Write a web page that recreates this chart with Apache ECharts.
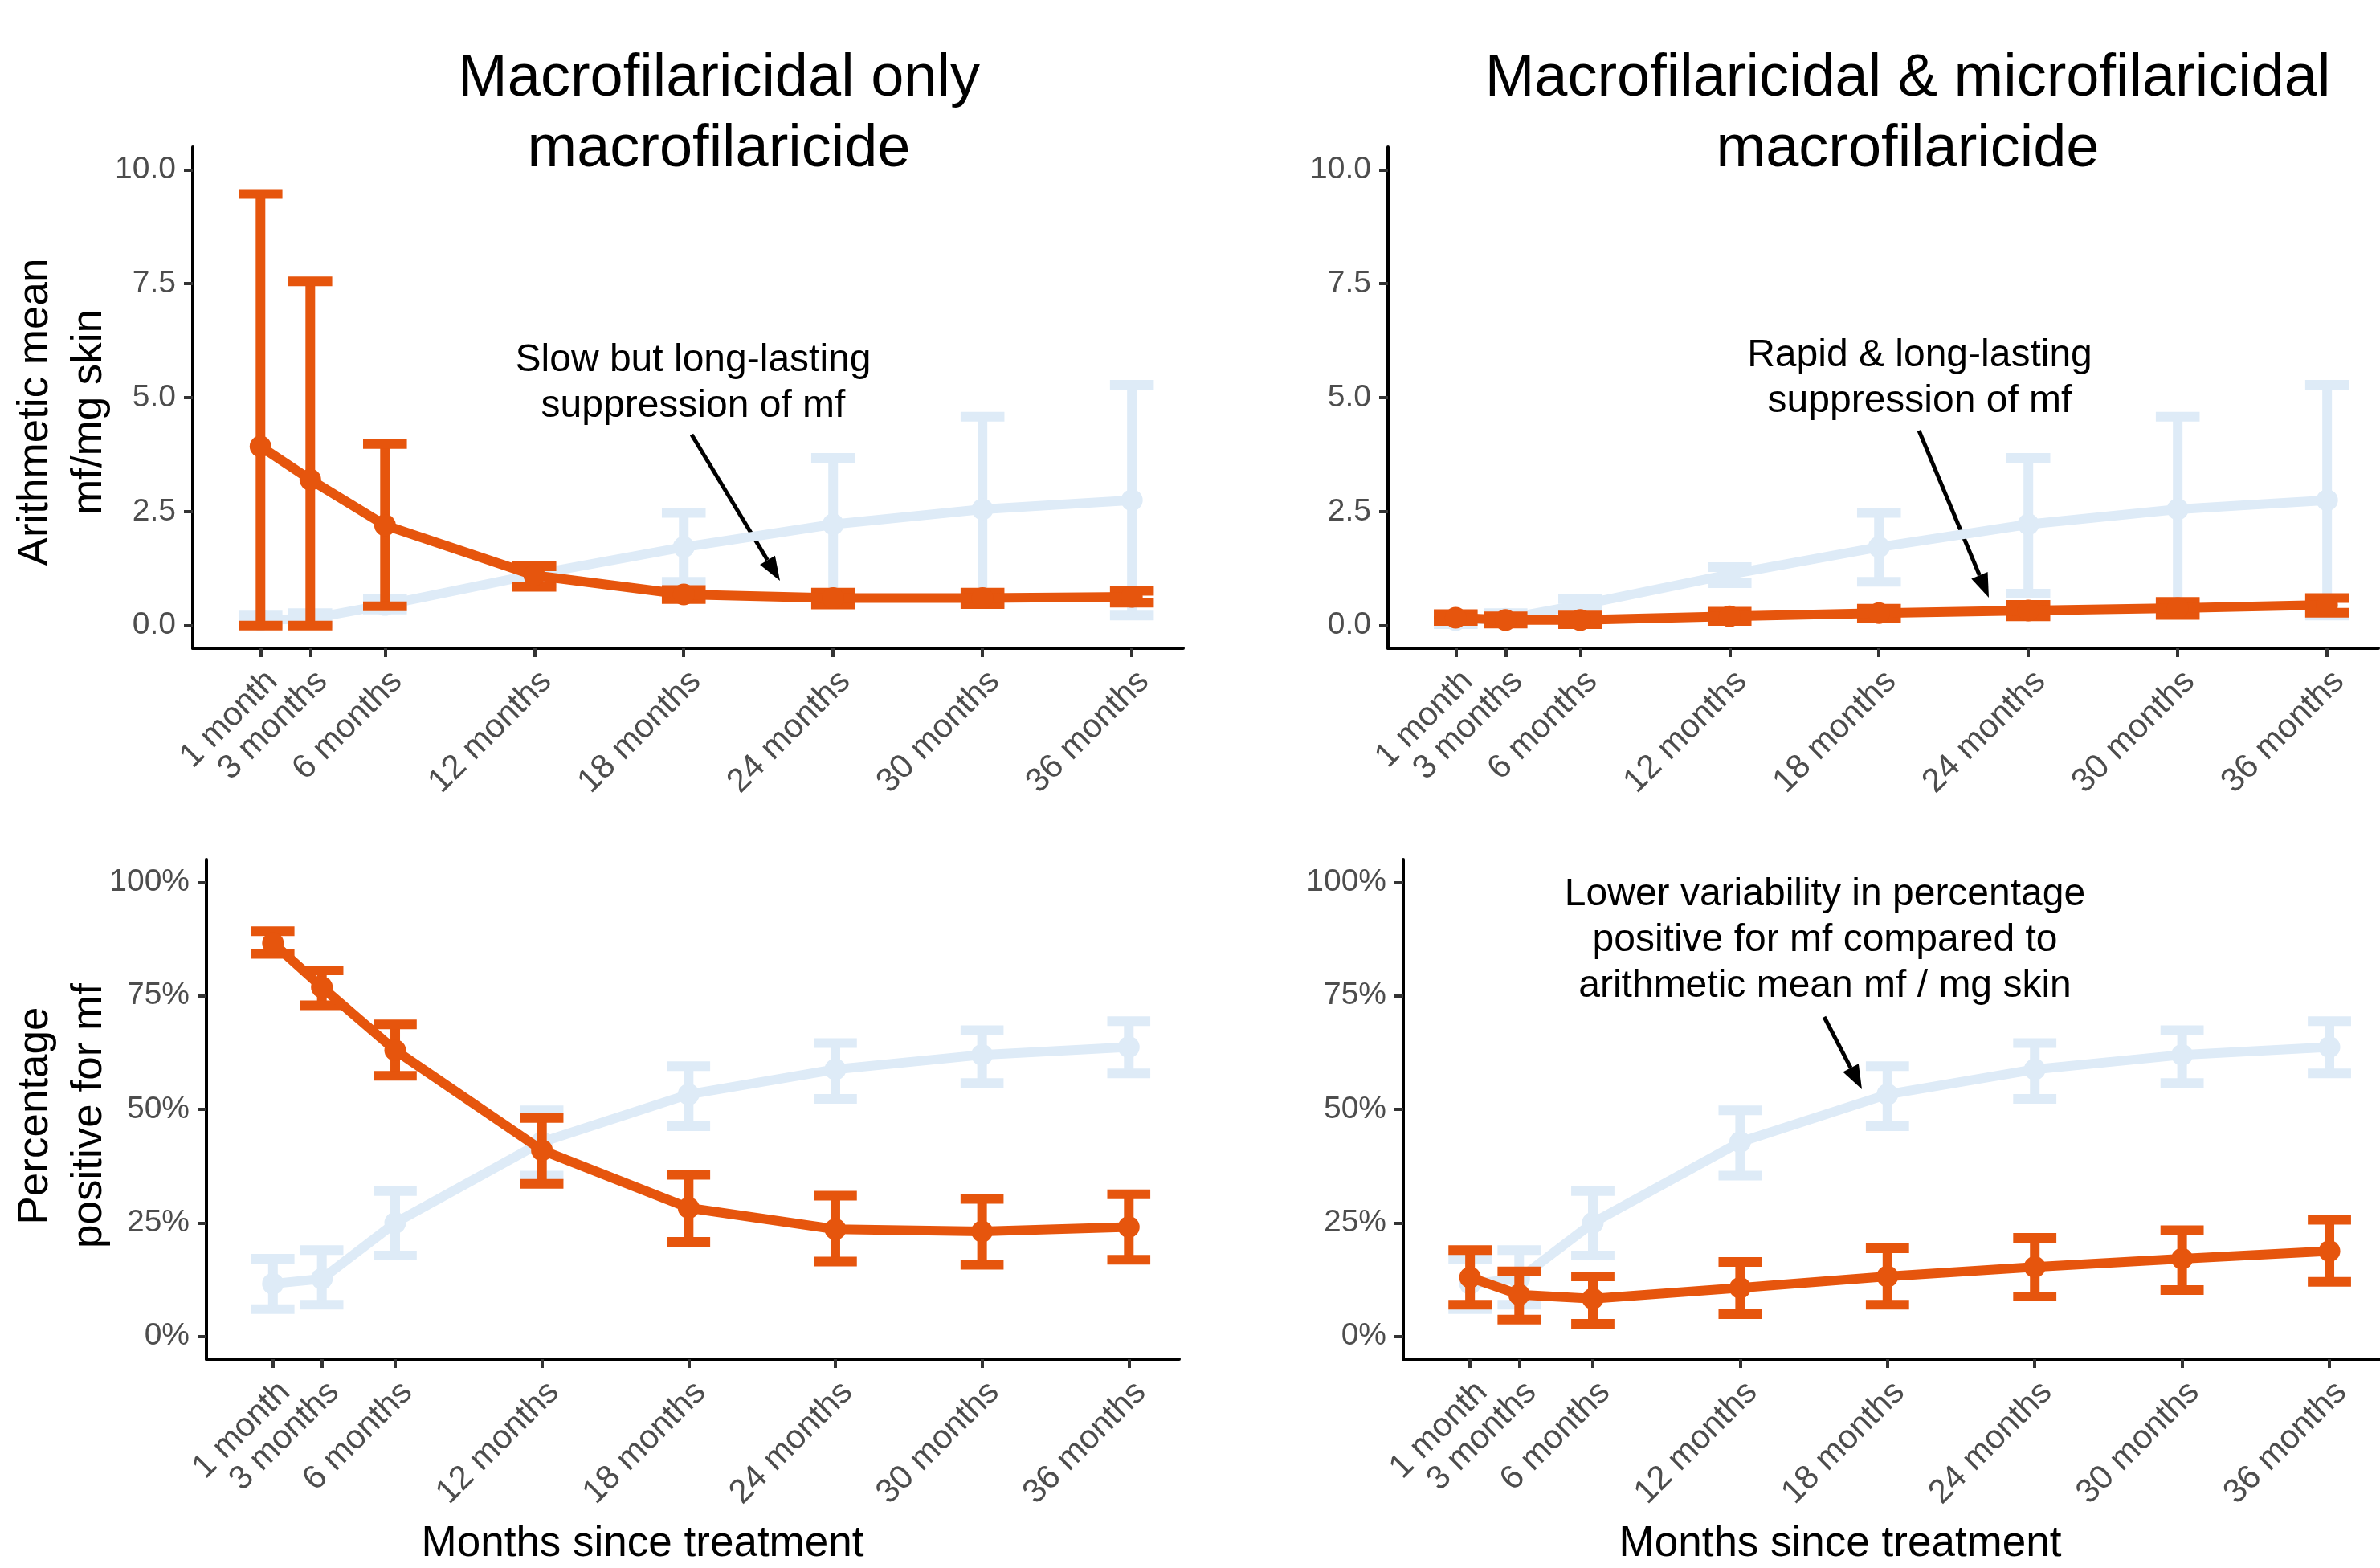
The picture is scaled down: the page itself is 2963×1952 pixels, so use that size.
<!DOCTYPE html>
<html>
<head>
<meta charset="utf-8">
<title>mf suppression</title>
<style>
  * { margin: 0; padding: 0; }
  html, body { width: 2963px; height: 1952px; background: #fff; }
  #chart { width: 2963px; height: 1952px; }
</style>
</head>
<body>
<div id="chart"></div>
<script src="https://cdn.jsdelivr.net/npm/echarts@6/dist/echarts.min.js"></script>
<script>
// time points (months since treatment) and tick labels
var months = [1, 3, 6, 12, 18, 24, 30, 36];
var monthLabels = ['1 month', '3 months', '6 months', '12 months', '18 months', '24 months', '30 months', '36 months'];
var mfTicks = [0, 2.5, 5, 7.5, 10];
var pctTicks = [0, 25, 50, 75, 100];

// arithmetic mean mf/mg skin - reference (light blue, same in both panels)
var refMean = [0.12, 0.15, 0.45, 1.12, 1.72, 2.22, 2.55, 2.75];
var refLow = [0.03, 0.05, 0.35, 0.93, 0.96, 0.70, 0.50, 0.22];
var refHigh = [0.22, 0.27, 0.58, 1.28, 2.47, 3.68, 4.58, 5.28];

// macrofilaricidal only
var macroMean = [3.93, 3.20, 2.20, 1.10, 0.68, 0.60, 0.60, 0.63];
var macroLow = [0, 0, 0.42, 0.85, 0.58, 0.46, 0.47, 0.50];
var macroHigh = [9.47, 7.55, 3.98, 1.30, 0.78, 0.72, 0.72, 0.76];

// macrofilaricidal & microfilaricidal
var microMean = [0.17, 0.12, 0.12, 0.20, 0.27, 0.33, 0.38, 0.45];
var microLow = [0.10, 0.04, 0.03, 0.10, 0.17, 0.20, 0.23, 0.28];
var microHigh = [0.25, 0.20, 0.22, 0.30, 0.37, 0.45, 0.52, 0.60];

// percentage positive for mf
var refPct = [11.6, 12.7, 25.0, 42.8, 53.3, 58.8, 62.0, 63.7];
var refPctLow = [6.0, 7.0, 17.8, 35.4, 46.3, 52.3, 55.8, 57.9];
var refPctHigh = [17.1, 19.0, 32.0, 49.8, 59.5, 64.6, 67.4, 69.4];

var macroPct = [86.6, 76.9, 63.0, 41.0, 28.3, 23.6, 23.1, 24.1];
var macroPctLow = [84.2, 72.9, 57.4, 33.6, 20.8, 16.5, 15.8, 16.9];
var macroPctHigh = [89.2, 80.6, 68.7, 48.1, 35.6, 31.0, 30.3, 31.3];

var microPct = [13.0, 9.2, 8.3, 10.7, 13.2, 15.3, 17.1, 18.8];
var microPctLow = [7.0, 3.7, 2.8, 4.9, 7.0, 8.8, 10.2, 12.0];
var microPctHigh = [19.0, 14.3, 13.2, 16.4, 19.4, 21.7, 23.4, 25.7];

var orange = '#e6550d';
var blue = '#deebf7';
var font = '"Liberation Sans", Arial, Helvetica, sans-serif';
var capHalf = 0.88;

var grids = [
  { left: 240, top: 183, width: 1233, height: 624 },
  { left: 1728, top: 183, width: 1233, height: 624 },
  { left: 257, top: 1070, width: 1211, height: 622 },
  { left: 1747, top: 1070, width: 1216, height: 622 }
];

function xAxisFor(i) {
  return {
    type: 'value', gridIndex: i, min: -1.72, max: 38.06,
    splitLine: { show: false },
    axisLine: { onZero: false, lineStyle: { color: '#000', width: 4 } },
    axisTick: { customValues: months, length: 11, lineStyle: { color: '#333', width: 4 } },
    axisLabel: {
      customValues: months, rotate: 45, margin: 20, verticalAlign: 'top',
      fontSize: 42, color: '#4d4d4d', fontFamily: font,
      formatter: function(v) { return monthLabels[months.indexOf(v)]; }
    }
  };
}

function yAxisFor(i, pct) {
  return {
    type: 'value', gridIndex: i,
    min: pct ? -5 : -0.5, max: pct ? 105 : 10.5,
    splitLine: { show: false },
    axisLine: { onZero: false, lineStyle: { color: '#000', width: 4 } },
    axisTick: { customValues: pct ? pctTicks : mfTicks, length: 11, lineStyle: { color: '#333', width: 4 } },
    axisLabel: {
      customValues: pct ? pctTicks : mfTicks, margin: 21,
      fontSize: 39, color: '#4d4d4d', fontFamily: font,
      formatter: function(v) { return pct ? v + '%' : v.toFixed(1); }
    }
  };
}

function errSeries(i, low, high, color, z) {
  return {
    type: 'custom', xAxisIndex: i, yAxisIndex: i, z: z,
    data: months.map(function(m, k) { return [m, low[k], high[k]]; }),
    encode: { x: 0, y: [1, 2] },
    renderItem: function(params, api) {
      var x = api.value(0);
      var pLo = api.coord([x, api.value(1)]);
      var pHi = api.coord([x, api.value(2)]);
      var l = api.coord([x - capHalf, 0])[0];
      var r = api.coord([x + capHalf, 0])[0];
      var st = { stroke: color, lineWidth: 12, fill: null };
      return {
        type: 'group',
        children: [
          { type: 'line', shape: { x1: pLo[0], y1: pLo[1], x2: pHi[0], y2: pHi[1] }, style: st },
          { type: 'line', shape: { x1: l, y1: pHi[1], x2: r, y2: pHi[1] }, style: st },
          { type: 'line', shape: { x1: l, y1: pLo[1], x2: r, y2: pLo[1] }, style: st }
        ]
      };
    }
  };
}

function lineSeries(i, mean, color, z) {
  return {
    type: 'line', xAxisIndex: i, yAxisIndex: i, z: z,
    data: months.map(function(m, k) { return [m, mean[k]]; }),
    symbol: 'circle', symbolSize: 27, showSymbol: true,
    lineStyle: { color: color, width: 12 },
    itemStyle: { color: color, borderWidth: 0 },
    emphasis: { disabled: true },
    animation: false
  };
}

function panel(i, rm, rl, rh, tm, tl, th) {
  return [
    errSeries(i, rl, rh, blue, 2),
    lineSeries(i, rm, blue, 3),
    errSeries(i, tl, th, orange, 4),
    lineSeries(i, tm, orange, 5)
  ];
}

function txt(x, y, text, size, lh, rot) {
  return {
    type: 'text', x: x, y: y, rotation: rot || 0,
    style: {
      text: text, fontSize: size, lineHeight: lh, fontFamily: font,
      fill: '#000', align: 'center', verticalAlign: 'middle'
    }
  };
}

function arrow(x1, y1, x2, y2) {
  var a = Math.atan2(y2 - y1, x2 - x1);
  var len = 30, hw = 11;
  var bx = x2 - len * Math.cos(a), by = y2 - len * Math.sin(a);
  var nx = -Math.sin(a), ny = Math.cos(a);
  return {
    type: 'group',
    children: [
      { type: 'line', shape: { x1: x1, y1: y1, x2: bx, y2: by }, style: { stroke: '#000', lineWidth: 5 } },
      { type: 'polygon', shape: { points: [[x2, y2], [bx + nx * hw, by + ny * hw], [bx - nx * hw, by - ny * hw]] }, style: { fill: '#000' } }
    ]
  };
}

var chart = echarts.init(document.getElementById('chart'));
var option = {
  animation: false,
  backgroundColor: '#fff',
  grid: grids,
  xAxis: [xAxisFor(0), xAxisFor(1), xAxisFor(2), xAxisFor(3)],
  yAxis: [yAxisFor(0, false), yAxisFor(1, false), yAxisFor(2, true), yAxisFor(3, true)],
  series: [].concat(
    panel(0, refMean, refLow, refHigh, macroMean, macroLow, macroHigh),
    panel(1, refMean, refLow, refHigh, microMean, microLow, microHigh),
    panel(2, refPct, refPctLow, refPctHigh, macroPct, macroPctLow, macroPctHigh),
    panel(3, refPct, refPctLow, refPctHigh, microPct, microPctLow, microPctHigh)
  ),
  graphic: [
    txt(895, 143, 'Macrofilaricidal only\nmacrofilaricide', 74, 88),
    txt(2375, 143, 'Macrofilaricidal & microfilaricidal\nmacrofilaricide', 74, 88),
    txt(78, 513, 'Arithmetic mean\nmf/mg skin', 53, 67, Math.PI / 2),
    txt(78, 1389, 'Percentage\npositive for mf', 53, 67, Math.PI / 2),
    txt(800, 1922, 'Months since treatment', 53, 60),
    txt(2291, 1922, 'Months since treatment', 53, 60),
    txt(863, 477, 'Slow but long-lasting\nsuppression of mf', 48, 57),
    txt(2390, 471, 'Rapid & long-lasting\nsuppression of mf', 48, 57),
    txt(2272, 1171, 'Lower variability in percentage\npositive for mf compared to\narithmetic mean mf / mg skin', 48, 57),
    arrow(861, 541, 971, 723),
    arrow(2389, 536, 2476, 744),
    arrow(2271, 1266, 2318, 1356)
  ]
};
chart.setOption(option);
</script>
</body>
</html>
